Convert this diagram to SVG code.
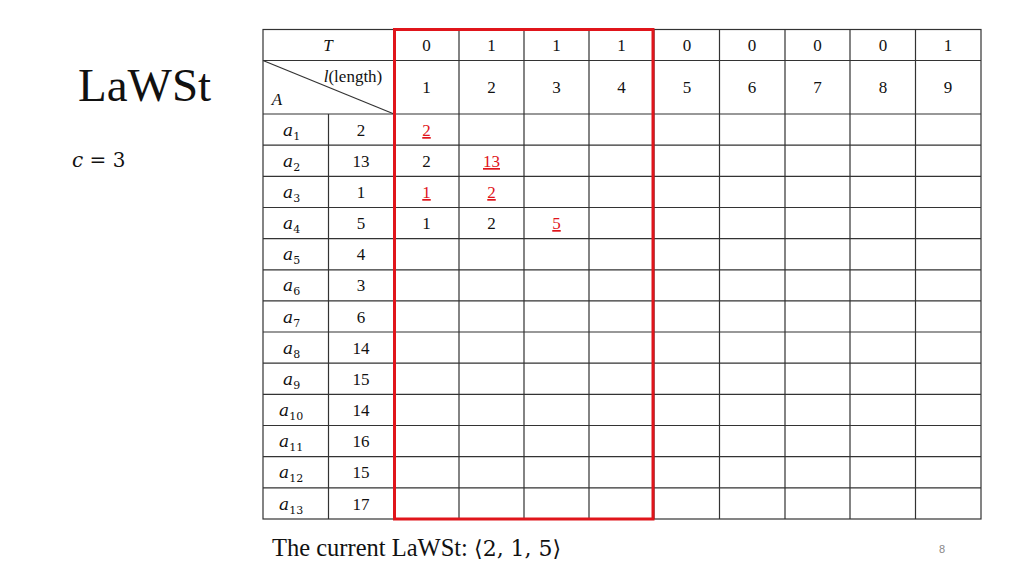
<svg xmlns="http://www.w3.org/2000/svg" width="1024" height="576" viewBox="0 0 1024 576">
<style>
.g{stroke:#333;stroke-width:1.2;fill:none}
.t{font-family:"Liberation Serif","Times New Roman",serif;font-size:17px;fill:#111;text-anchor:middle}
.r{fill:#e0151b;text-decoration:underline}
.m{font-family:"DejaVu Serif","Liberation Serif",serif;font-style:italic;font-size:17px;fill:#111}
.s{font-family:"DejaVu Serif","Liberation Serif",serif;font-style:normal;font-size:11px;fill:#111}
</style>
<rect width="1024" height="576" fill="#fff"/>
<g id="title"><text x="78" y="101" font-family="'Liberation Serif',serif" font-size="47" fill="#111">LaWSt</text></g>
<g id="cval"><text x="72" y="167" font-family="'DejaVu Serif',serif" font-size="20" fill="#111"><tspan font-style="italic">c</tspan> = 3</text></g>
<g id="grid">
<rect class="g" x="263" y="29.5" width="718" height="489.5"/>
<path class="g" d="M263 60.5H981M263 114H981M263 145.2H981M263 176.3H981M263 207.5H981M263 238.6H981M263 269.8H981M263 300.9H981M263 332H981M263 363.2H981M263 394.3H981M263 425.5H981M263 456.6H981M263 487.8H981"/>
<path class="g" d="M328.5 114V519M394 29.5V519M459 29.5V519M524 29.5V519M589 29.5V519M654 29.5V519M719.5 29.5V519M785 29.5V519M850 29.5V519M915.5 29.5V519"/>
<path class="g" d="M263 60.5L394 114"/>
</g>
<g id="header">
<text class="t" x="328" y="51" font-style="italic">T</text>
<text class="t" x="353" y="82"><tspan font-style="italic">l</tspan>(length)</text>
<text class="t" x="277" y="105" font-style="italic">A</text>
<text class="t" x="426.5" y="51">0</text><text class="t" x="491.5" y="51">1</text><text class="t" x="556.5" y="51">1</text><text class="t" x="621.5" y="51">1</text><text class="t" x="687" y="51">0</text><text class="t" x="752" y="51">0</text><text class="t" x="817.5" y="51">0</text><text class="t" x="883" y="51">0</text><text class="t" x="948" y="51">1</text>
<text class="t" x="426.5" y="93">1</text><text class="t" x="491.5" y="93">2</text><text class="t" x="556.5" y="93">3</text><text class="t" x="621.5" y="93">4</text><text class="t" x="687" y="93">5</text><text class="t" x="752" y="93">6</text><text class="t" x="817.5" y="93">7</text><text class="t" x="883" y="93">8</text><text class="t" x="948" y="93">9</text>
</g>
<g id="rows">
<text class="m" x="283" y="136">a<tspan class="s" dy="4">1</tspan></text><text class="t" x="361" y="136">2</text>
<text class="m" x="283" y="167">a<tspan class="s" dy="4">2</tspan></text><text class="t" x="361" y="167">13</text>
<text class="m" x="283" y="198">a<tspan class="s" dy="4">3</tspan></text><text class="t" x="361" y="198">1</text>
<text class="m" x="283" y="229">a<tspan class="s" dy="4">4</tspan></text><text class="t" x="361" y="229">5</text>
<text class="m" x="283" y="260">a<tspan class="s" dy="4">5</tspan></text><text class="t" x="361" y="260">4</text>
<text class="m" x="283" y="291">a<tspan class="s" dy="4">6</tspan></text><text class="t" x="361" y="291">3</text>
<text class="m" x="283" y="323">a<tspan class="s" dy="4">7</tspan></text><text class="t" x="361" y="323">6</text>
<text class="m" x="283" y="354">a<tspan class="s" dy="4">8</tspan></text><text class="t" x="361" y="354">14</text>
<text class="m" x="283" y="385">a<tspan class="s" dy="4">9</tspan></text><text class="t" x="361" y="385">15</text>
<text class="m" x="279" y="416">a<tspan class="s" dy="4">10</tspan></text><text class="t" x="361" y="416">14</text>
<text class="m" x="279" y="447">a<tspan class="s" dy="4">11</tspan></text><text class="t" x="361" y="447">16</text>
<text class="m" x="279" y="478">a<tspan class="s" dy="4">12</tspan></text><text class="t" x="361" y="478">15</text>
<text class="m" x="279" y="510">a<tspan class="s" dy="4">13</tspan></text><text class="t" x="361" y="510">17</text>
</g>
<g id="cells">
<text class="t r" x="426.5" y="136">2</text>
<text class="t" x="426.5" y="167">2</text><text class="t r" x="491.5" y="167">13</text>
<text class="t r" x="426.5" y="198">1</text><text class="t r" x="491.5" y="198">2</text>
<text class="t" x="426.5" y="229">1</text><text class="t" x="491.5" y="229">2</text><text class="t r" x="556.5" y="229">5</text>
</g>
<g id="highlight"><rect x="394.5" y="29.5" width="258.5" height="489.5" fill="none" stroke="#e0151b" stroke-width="3"/></g>
<g id="caption"><text x="272" y="556" font-family="'Liberation Serif',serif" font-size="24.5" fill="#111">The current LaWSt: <tspan font-family="'DejaVu Serif',serif" font-size="22">⟨2, 1, 5⟩</tspan></text></g>
<g id="page"><text x="942" y="553" font-family="'Liberation Sans',sans-serif" font-size="11" fill="#888" text-anchor="middle">8</text></g>
</svg>
